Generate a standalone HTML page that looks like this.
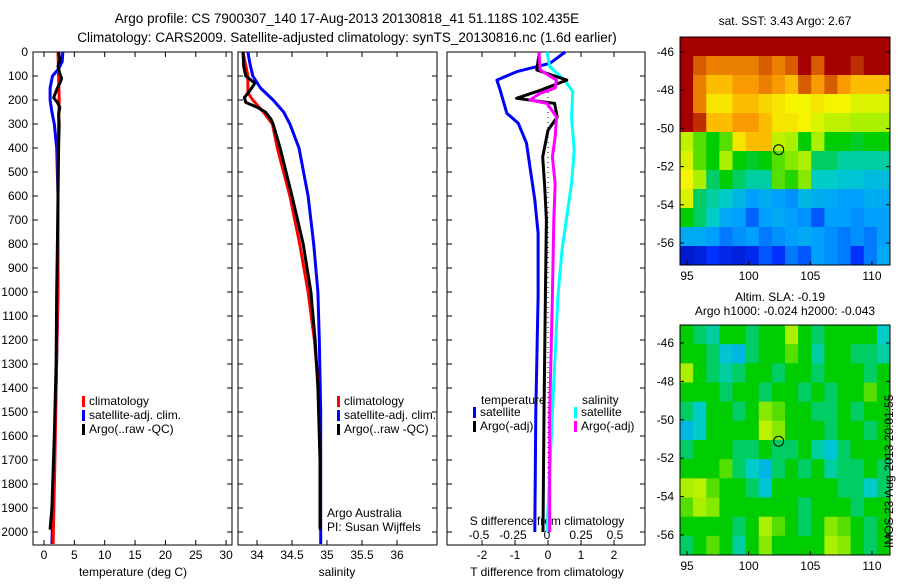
<!DOCTYPE html>
<html><head><meta charset="utf-8">
<style>
body{margin:0;background:#fff;}
svg text{font-family:"Liberation Sans",sans-serif;font-size:12px;fill:#000;}
</style></head>
<body>
<svg id="c" width="900" height="580" xmlns="http://www.w3.org/2000/svg">
<text x="347" y="23" text-anchor="middle" style="font-size:13.5px">Argo profile: CS 7900307_140 17-Aug-2013 20130818_41 51.118S 102.435E</text>
<text x="347" y="42" text-anchor="middle" style="font-size:13.5px">Climatology: CARS2009. Satellite-adjusted climatology: synTS_20130816.nc (1.6d earlier)</text>
</svg>
<script>
// ---------- data ----------
const depthTicks=[0,100,200,300,400,500,600,700,800,900,1000,1100,1200,1300,1400,1500,1600,1700,1800,1900,2000];
const tempTicks=[0,5,10,15,20,25,30];
const salTicks=[34,34.5,35,35.5,36];
const tdTicks=[-2,-1,0,1,2];
const sdTicks=[-0.5,-0.25,0,0.25,0.5];
const sdTickLabels=["-0.5","-0.25","0","0.25","0.5"];
const latTicks=[-46,-48,-50,-52,-54,-56];
const lonTicks=[95,100,105,110];

const tArgoD=[0,30,60,90,110,130,150,170,190,200,210,230,260,300,400,600,800,1000,1300,1600,1900,1990];
const tArgoV=[2.4,2.6,2.3,2.6,2.9,2.6,2.2,1.9,1.6,1.9,2.2,2.6,2.4,2.5,2.4,2.3,2.2,2.1,2.0,1.7,1.3,1.0];
const tClimD=[0,100,200,300,500,800,1100,1400,1700,2050];
const tClimV=[2.3,2.4,2.5,2.4,2.3,2.3,2.2,2.0,1.8,1.5];
const tSatD=[0,40,70,100,150,200,250,300,400,600,1000,1400,1800,2050];
const tSatV=[3.1,3.0,2.4,1.4,1.0,1.0,1.3,1.7,2.1,2.3,2.3,2.0,1.6,1.3];

const sArgoD=[0,60,100,130,160,190,210,230,250,280,300,400,600,800,1000,1200,1400,1700,1990];
const sArgoV=[33.8,33.81,33.84,33.97,33.9,33.82,33.84,34.0,34.12,34.2,34.23,34.33,34.5,34.66,34.77,34.83,34.87,34.9,34.9];
const sClimD=[0,100,170,200,250,300,400,600,800,1000,1200,1370];
const sClimV=[33.8,33.87,33.87,33.94,34.09,34.22,34.29,34.47,34.61,34.73,34.82,34.87];
const sSatD=[0,50,100,150,200,250,300,400,600,800,1000,1200,1500,2050];
const sSatV=[33.87,33.9,33.94,34.05,34.23,34.38,34.47,34.6,34.73,34.81,34.87,34.89,34.91,34.91];

const dTSatD=[0,47,82,117,158,255,297,380,477,616,755,1019,1500,2000];
const dTSatV=[0.52,0.06,-0.95,-1.55,-1.45,-1.25,-0.9,-0.65,-0.55,-0.4,-0.3,-0.3,-0.37,-0.4];
const dSSatD=[0,61,117,165,271,410,549,688,826,1019,1500,2000];
const dSSatV=[0.0,0.02,0.13,0.19,0.18,0.2,0.18,0.145,0.11,0.08,0.04,0.0];
const dTArgD=[0,75,117,158,193,214,271,326,437,560,700,1019,1500,2000];
const dTArgV=[-0.26,-0.34,0.57,-0.2,-0.95,0.2,0.28,0.0,-0.16,-0.1,-0.05,-0.08,-0.12,-0.15];
const dSArgD=[0,75,117,150,172,200,214,271,353,437,550,700,1019,1500,2000];
const dSArgV=[-0.06,-0.05,0.07,0.06,-0.05,-0.125,0.0,0.07,0.06,0.04,0.06,0.05,0.04,0.02,0.02];

const sstGrid=[
[1,1,1,1,1,1,1,1,1,1,1,1,1,1,1,1],
[1,.9,.85,.85,.85,.85,.9,.85,.9,1,.9,1,1,.95,1,1],
[1,.85,.75,.75,.8,.8,.85,.8,.75,.9,.8,.9,.8,.75,.75,.75],
[1,.85,.7,.7,.75,.75,.72,.7,.68,.68,.7,.68,.68,.65,.65,.65],
[1,.95,.75,.75,.8,.8,.75,.7,.7,.68,.65,.62,.62,.6,.6,.6],
[.62,.55,.5,.55,.7,.75,.75,.62,.6,.5,.6,.5,.5,.48,.5,.5],
[.65,.55,.5,.6,.5,.48,.5,.55,.58,.6,.45,.45,.42,.42,.42,.42],
[.68,.6,.45,.5,.45,.42,.42,.55,.52,.58,.4,.4,.38,.38,.36,.36],
[.65,.45,.42,.4,.35,.3,.33,.3,.28,.35,.33,.32,.3,.3,.33,.32],
[.5,.45,.4,.32,.3,.22,.3,.32,.3,.28,.2,.3,.3,.28,.3,.3],
[.32,.32,.3,.25,.28,.3,.25,.28,.3,.32,.3,.28,.25,.28,.25,.3],
[.08,.1,.15,.12,.1,.12,.2,.15,.25,.2,.3,.28,.25,.15,.25,.32]];
const slaGrid=[
[.5,.45,.42,.5,.5,.45,.5,.5,.6,.5,.45,.5,.5,.5,.5,.4],
[.5,.5,.45,.38,.35,.45,.5,.5,.55,.5,.42,.5,.5,.45,.45,.42],
[.6,.5,.45,.42,.45,.5,.5,.45,.5,.5,.45,.5,.5,.5,.45,.5],
[.5,.5,.5,.45,.5,.5,.45,.5,.5,.45,.5,.45,.5,.5,.55,.5],
[.45,.4,.5,.5,.45,.5,.58,.55,.5,.5,.45,.45,.5,.45,.5,.5],
[.35,.4,.5,.5,.5,.5,.62,.58,.5,.5,.5,.45,.5,.5,.45,.5],
[.45,.5,.5,.5,.45,.45,.5,.45,.45,.5,.42,.38,.45,.5,.5,.5],
[.5,.5,.5,.55,.45,.4,.35,.45,.5,.45,.5,.42,.45,.45,.5,.45],
[.6,.62,.55,.5,.5,.45,.38,.5,.5,.5,.5,.5,.45,.45,.4,.45],
[.55,.6,.58,.5,.5,.5,.5,.5,.5,.45,.5,.5,.5,.45,.5,.5],
[.5,.5,.5,.5,.45,.5,.6,.55,.5,.45,.5,.58,.55,.5,.45,.5],
[.45,.5,.55,.5,.42,.5,.58,.5,.5,.5,.5,.6,.58,.5,.45,.5]];

// ---------- helpers ----------
const svg=document.getElementById('c');const NS='http://www.w3.org/2000/svg';
function mk(tag,at,parent){const e=document.createElementNS(NS,tag);for(const k in at)e.setAttribute(k,at[k]);(parent||svg).appendChild(e);return e;}
function txt(x,y,s,anchor,parent){const t=mk('text',{x:x,y:y,'text-anchor':anchor||'start'},parent);t.textContent=s;return t;}
const yD=d=>52+d*0.24;
const PT=52, PB=545;

function panel(x0,x1,name){
  const g=mk('g',{});
  
  
  const r=mk('rect',{x:x0,y:PT,width:x1-x0,height:PB-PT,fill:'#fff',stroke:'#000','stroke-width':1},g);
  
  
  depthTicks.forEach(d=>{const y=yD(d);mk('line',{x1:x0,x2:x0+5,y1:y,y2:y,stroke:'#000'},g);mk('line',{x1:x1,x2:x1-5,y1:y,y2:y,stroke:'#000'},g);});
  return g;
}
function line(ds,vs,sx,color,name,w){
  const p=ds.map((d,i)=>(i?'L':'M')+sx(vs[i]).toFixed(1)+','+yD(d).toFixed(1)).join('');
  const e=mk('path',{d:p,fill:'none',stroke:color,'stroke-width':w||3,'stroke-linejoin':'round'});
  
  
}
function legend(x,y,items){
  items.forEach((it,i)=>{mk('rect',{x:x,y:y+i*14-9,width:3,height:11,fill:it[0]});const t=txt(x+7,y+i*14,it[1]);
  
  });
}

// ---------- panel 1 temperature ----------
const sxT=v=>44+v*6.07;
panel(33,232,'temperature-panel');
depthTicks.forEach(d=>{const t=txt(28,yD(d)+4,String(d),'end');

});
tempTicks.forEach(v=>{const x=sxT(v);mk('line',{x1:x,x2:x,y1:PB,y2:PB-5,stroke:'#000'});mk('line',{x1:x,x2:x,y1:PT,y2:PT+5,stroke:'#000'});
const t=txt(x,559,String(v),'middle');

});
const xl1=txt(133,576,'temperature (deg C)','middle');


line(tSatD,tSatV,sxT,'#00f','temp-satellite-line');
line(tClimD,tClimV,sxT,'#f00','temp-climatology-line');
line(tArgoD,tArgoV,sxT,'#000','temp-argo-line');
legend(82,405,[['#f00','climatology'],['#00f','satellite-adj. clim.'],['#000','Argo(..raw -QC)']]);

// ---------- panel 2 salinity ----------
const sxS=v=>257+(v-34)*70;
panel(238,437,'salinity-panel');
salTicks.forEach(v=>{const x=sxS(v);mk('line',{x1:x,x2:x,y1:PB,y2:PB-5,stroke:'#000'});mk('line',{x1:x,x2:x,y1:PT,y2:PT+5,stroke:'#000'});
const t=txt(x,559,String(v),'middle');

});
const xl2=txt(337,576,'salinity','middle');


line(sSatD,sSatV,sxS,'#00f','sal-satellite-line');
line(sClimD,sClimV,sxS,'#f00','sal-climatology-line');
line(sArgoD,sArgoV,sxS,'#000','sal-argo-line');
legend(337,405,[['#f00','climatology'],['#00f','satellite-adj. clim.'],['#000','Argo(..raw -QC)']]);
txt(327,517,'Argo Australia');txt(327,531,'PI: Susan Wijffels');

// ---------- panel 3 differences ----------
const sxdT=v=>548+v*33;const sxdS=v=>547+v*136;
panel(447,645,'difference-panel');
mk('line',{x1:sxdT(0),x2:sxdT(0),y1:PT+40,y2:PB-10,stroke:'#000','stroke-dasharray':'1,4'});
tdTicks.forEach(v=>{const x=sxdT(v);mk('line',{x1:x,x2:x,y1:PB,y2:PB-5,stroke:'#000'});mk('line',{x1:x,x2:x,y1:PT,y2:PT+5,stroke:'#000'});
const t=txt(x,559,String(v),'middle');

});
sdTicks.forEach((v,i)=>{const t=txt(sxdS(v),539,sdTickLabels[i],'middle');

});
const xl3=txt(547,576,'T difference from climatology','middle');


const xl4=txt(547,525,'S difference from climatology','middle');


line(dTSatD,dTSatV,sxdT,'#00f','t-diff-satellite-line');
line(dSSatD,dSSatV,sxdS,'#0ff','s-diff-satellite-line');
line(dTArgD,dTArgV,sxdT,'#000','t-diff-argo-line');
line(dSArgD,dSArgV,sxdS,'#f0f','s-diff-argo-line');
txt(481,404,'temperature');txt(582,404,'salinity');
legend(473,416,[['#00f','satellite'],['#000','Argo(-adj)']]);
legend(574,416,[['#0ff','satellite'],['#f0f','Argo(-adj)']]);

// ---------- maps ----------
const cmStops=[[0,[0,0,150]],[0.15,[0,50,255]],[0.3,[0,160,255]],[0.4,[0,205,200]],[0.5,[0,205,0]],[0.6,[170,240,0]],[0.68,[245,245,0]],[0.78,[255,165,0]],[0.88,[225,110,0]],[1,[165,0,0]]];
function cmap(v){v=Math.max(0,Math.min(1,v));for(let i=1;i<cmStops.length;i++){if(v<=cmStops[i][0]){const a=cmStops[i-1],b=cmStops[i],f=(v-a[0])/(b[0]-a[0]);const c=a[1].map((x,k)=>Math.round(x+(b[1][k]-x)*f));return `rgb(${c[0]},${c[1]},${c[2]})`;}}return 'rgb(165,0,0)';}
function map(y0,y1,lat46y,lat56y,grid,name){
  const x0=680,x1=890;
  const lon=v=>687+(v-95)*12.33;
  const pd=(lat56y-lat46y)/10;
  const lat=v=>lat46y+(-46-v)*pd;
  const g=mk('g',{});
  
  
  const rows=grid.length,cols=grid[0].length,cw=(x1-x0)/cols,ch=(y1-y0)/rows;
  grid.forEach((row,i)=>row.forEach((v,j)=>{const c=mk('rect',{x:x0+j*cw,y:y0+i*ch,width:cw+0.5,height:ch+0.5,fill:cmap(v)},g);
  
  }));
  mk('rect',{x:x0,y:y0,width:x1-x0,height:y1-y0,fill:'none',stroke:'#000'},g);
  latTicks.forEach(v=>{const y=lat(v);mk('line',{x1:x0,x2:x0+4,y1:y,y2:y,stroke:'#000'},g);mk('line',{x1:x1,x2:x1-4,y1:y,y2:y,stroke:'#000'},g);txt(674,y+4,String(v),'end',g);});
  lonTicks.forEach(v=>{const x=lon(v);mk('line',{x1:x,x2:x,y1:y1,y2:y1-4,stroke:'#000'},g);txt(x,y1+15,String(v),'middle',g);});
  const m=mk('circle',{cx:lon(102.435),cy:lat(-51.118),r:5,fill:'none',stroke:'#000'},g);
  
  
}
map(37,265,52,243,sstGrid,'sst-map');
map(325,555,343,535,slaGrid,'sla-map');
txt(785,25,'sat. SST: 3.43 Argo: 2.67','middle');
txt(780,301,'Altim. SLA: -0.19','middle');
txt(785,315,'Argo h1000: -0.024 h2000: -0.043','middle');
const st=txt(0,0,'IMOS 23-Aug-2013 20:01:55','start');
st.setAttribute('transform','translate(893,548) rotate(-90)');


</script>
</body></html>
